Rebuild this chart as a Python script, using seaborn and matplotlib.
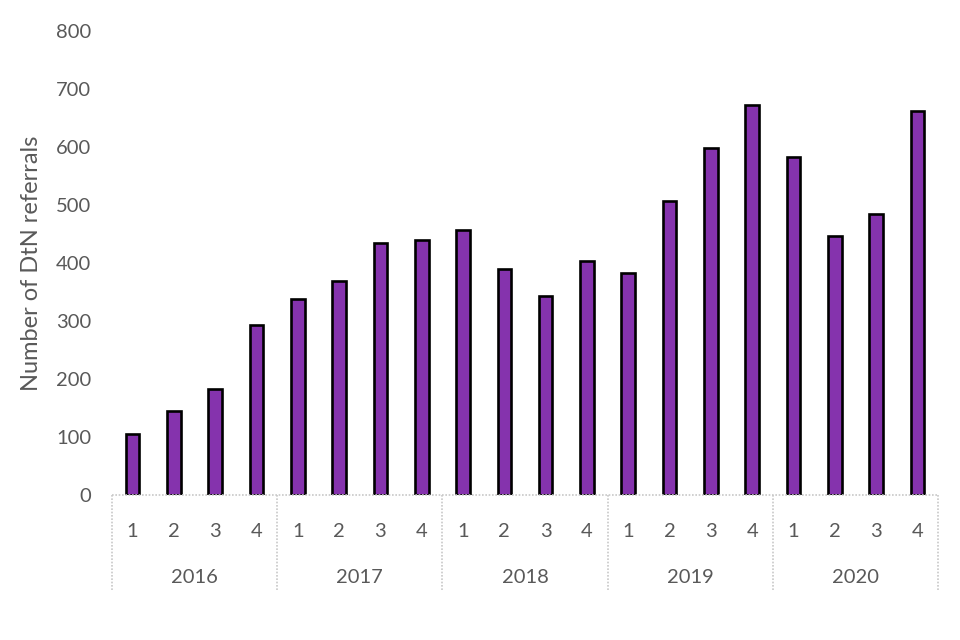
import matplotlib
matplotlib.use("Agg")
import matplotlib.pyplot as plt
import matplotlib.transforms as mtransforms
import pandas as pd
import seaborn as sns

years = ["2016", "2017", "2018", "2019", "2020"]
quarters = ["1", "2", "3", "4"]
referrals = [
    105, 145, 183, 293,
    338, 369, 434, 440,
    457, 390, 343, 403,
    383, 507, 598, 672,
    583, 447, 484, 662,
]

df = pd.DataFrame({
    "year": [y for y in years for _ in quarters],
    "quarter": [q for _ in years for q in quarters],
    "referrals": referrals,
})
df["pos"] = range(len(df))

sns.set_theme(style="white")
plt.rcParams["font.family"] = ["Lato", "DejaVu Sans"]
text_col = "#595959"

fig = plt.figure(figsize=(9.6, 6.4), dpi=100)
ax = fig.add_axes([112 / 960, 145 / 640, 826 / 960, 464 / 640])

sns.barplot(
    data=df, x="pos", y="referrals", color="#8533AD", saturation=1,
    width=0.33, edgecolor="black", linewidth=1.9, ax=ax,
)

ax.set_ylim(0, 800)
ax.set_xlim(-0.5, len(df) - 0.5)
ax.set_yticks(range(0, 801, 100))
ax.tick_params(axis="y", labelsize=14.5, colors=text_col, length=0, pad=15)
ax.set_xticks(df["pos"])
ax.set_xticklabels(df["quarter"])
ax.tick_params(axis="x", labelsize=14.5, colors=text_col, length=0, pad=20)
ax.set_xlabel("")
ax.set_ylabel("Number of DtN referrals", fontsize=17, color=text_col, labelpad=10)

for s in ["top", "right", "left", "bottom"]:
    ax.spines[s].set_visible(False)

trans = mtransforms.blended_transform_factory(ax.transData, ax.transAxes)
sep_col = "#C8C8C8"
ax.plot([-0.5, len(df) - 0.5], [0, 0], transform=trans, color=sep_col,
        linestyle=(0, (1, 1)), linewidth=1.2, clip_on=False)
n_q = len(quarters)
for i, y in enumerate(years):
    left = i * n_q - 0.5
    ax.plot([left, left], [0, -0.205], transform=trans, color=sep_col,
            linestyle=(0, (1, 1)), linewidth=1.2, clip_on=False)
    ax.text(left + n_q / 2, -0.177, y, transform=trans, ha="center", va="center",
            fontsize=14.5, color=text_col)
right = len(df) - 0.5
ax.plot([right, right], [0, -0.205], transform=trans, color=sep_col,
        linestyle=(0, (1, 1)), linewidth=1.2, clip_on=False)

fig.savefig("out.png", dpi=100)
